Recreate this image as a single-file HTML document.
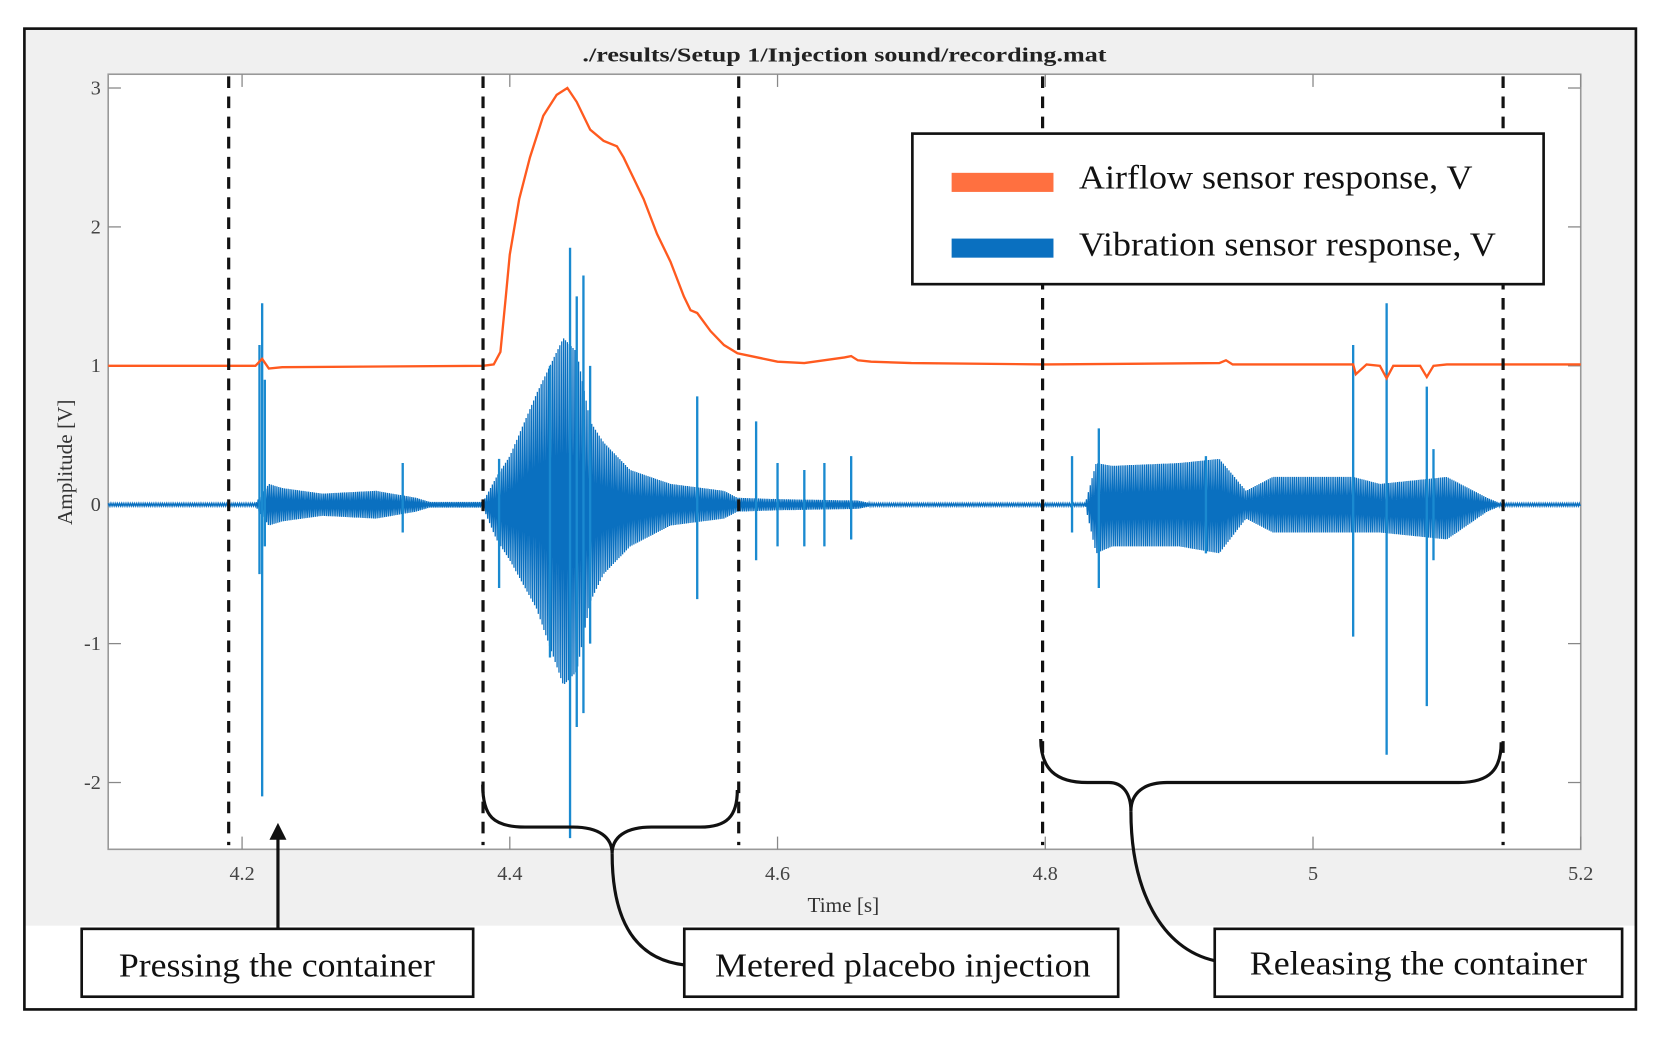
<!DOCTYPE html>
<html><head><meta charset="utf-8"><style>
html,body{margin:0;padding:0;background:#fff;}
svg{display:block;font-family:"Liberation Serif",serif;}
</style></head><body>
<svg id="chart" width="1655" height="1037" viewBox="0 0 1560 978" preserveAspectRatio="none" xmlns="http://www.w3.org/2000/svg">
<rect x="0" y="0" width="1560" height="978" fill="#fff"/>
<rect x="23" y="27" width="1519" height="846" fill="#f0f0f0"/>
<rect x="23" y="27" width="1519" height="925" fill="none" stroke="#111" stroke-width="2.5"/>
<text x="549" y="58" font-size="19" font-weight="bold" textLength="494" lengthAdjust="spacingAndGlyphs" fill="#222">./results/Setup 1/Injection sound/recording.mat</text>
<rect x="102" y="70" width="1388" height="731" fill="#fff" stroke="#999" stroke-width="1.5"/>
<g id="axes"></g>
<g id="series"></g>
<g id="annot"></g>
<text transform="translate(68,436) rotate(-90)" font-size="20" text-anchor="middle" fill="#333">Amplitude [V]</text>
<text x="795" y="860" font-size="20" text-anchor="middle" fill="#333">Time [s]</text>
<g>
<rect x="860" y="126" width="595" height="142" fill="#fff" stroke="#111" stroke-width="2.5"/>
<rect x="897" y="163" width="96" height="18" fill="#ff7040"/>
<text x="1017" y="178" font-size="32" textLength="371" lengthAdjust="spacingAndGlyphs" fill="#111">Airflow sensor response, V</text>
<rect x="897" y="225" width="96" height="18" fill="#0a70c0"/>
<text x="1017" y="241" font-size="32" textLength="393" lengthAdjust="spacingAndGlyphs" fill="#111">Vibration sensor response, V</text>
</g>
<g fill="#fff" stroke="#111" stroke-width="2.5">
<rect x="77" y="876" width="369" height="64"/>
<rect x="645" y="876" width="409" height="64"/>
<rect x="1145" y="876" width="384" height="64"/>
</g>
<g font-size="32" fill="#111">
<text x="112" y="921" textLength="298" lengthAdjust="spacingAndGlyphs">Pressing the container</text>
<text x="674" y="921" textLength="354" lengthAdjust="spacingAndGlyphs">Metered placebo injection</text>
<text x="1178" y="919" textLength="318" lengthAdjust="spacingAndGlyphs">Releasing the container</text>
</g>
<g fill="none" stroke="#111" stroke-width="3">
<path d="M455,740 C455,770 465,780 495,780 L540,780 C565,780 577,790 577,805 C577,790 589,780 614,780 L660,780 C685,780 695,770 695,745"/>
<path d="M577,805 C577,870 600,905 645,910"/>
<path d="M981,697 C981,725 995,738 1025,738 L1045,738 C1058,738 1066,748 1066,765 C1066,748 1078,738 1100,738 L1375,738 C1405,738 1415,725 1415,700"/>
<path d="M1066,765 C1066,840 1095,895 1145,906"/>
<line x1="262" y1="876" x2="262" y2="790"/>
</g>
<polygon points="262,776 254,792 270,792" fill="#111"/>
</svg>
<script>
const xTicks=[4.2,4.4,4.6,4.8,5,5.2];
const xTickLabels=["4.2","4.4","4.6","4.8","5","5.2"];
const yTicks=[3,2,1,0,-1,-2];
const yTickLabels=["3","2","1","0","-1","-2"];
const eventTimes=[4.19,4.38,4.571,4.798,5.142];
const airT=[4.1,4.21,4.215,4.22,4.23,4.38,4.388,4.393,4.397,4.40,4.407,4.415,4.425,4.435,4.443,4.45,4.46,4.47,4.48,4.485,4.49,4.50,4.51,4.52,4.53,4.535,4.54,4.55,4.56,4.57,4.58,4.60,4.62,4.65,4.655,4.66,4.67,4.70,4.80,4.93,4.935,4.94,5.03,5.032,5.04,5.05,5.055,5.06,5.08,5.085,5.09,5.10,5.2];
const airV=[1.0,1.0,1.05,0.98,0.99,1.0,1.01,1.1,1.5,1.8,2.2,2.5,2.8,2.95,3.0,2.9,2.7,2.62,2.58,2.5,2.4,2.2,1.95,1.75,1.5,1.4,1.38,1.25,1.15,1.09,1.07,1.03,1.02,1.06,1.07,1.04,1.03,1.02,1.01,1.02,1.04,1.01,1.01,0.94,1.01,1.0,0.91,1.0,1.0,0.92,1.0,1.01,1.01];
const envT=[4.1,4.21,4.22,4.23,4.26,4.30,4.33,4.34,4.38,4.39,4.40,4.42,4.44,4.45,4.46,4.47,4.49,4.52,4.56,4.57,4.60,4.66,4.67,4.83,4.838,4.85,4.90,4.93,4.95,4.97,4.99,5.02,5.03,5.05,5.10,5.13,5.14,5.2];
const envUp=[0.01,0.01,0.15,0.12,0.08,0.1,0.05,0.02,0.02,0.2,0.35,0.8,1.2,1.1,0.6,0.45,0.25,0.15,0.1,0.05,0.04,0.03,0.01,0.01,0.3,0.28,0.3,0.33,0.1,0.2,0.2,0.2,0.2,0.15,0.2,0.05,0.01,0.01];
const envLo=[-0.01,-0.01,-0.15,-0.12,-0.08,-0.1,-0.05,-0.02,-0.02,-0.25,-0.4,-0.75,-1.3,-1.2,-0.7,-0.5,-0.3,-0.15,-0.1,-0.05,-0.04,-0.03,-0.01,-0.01,-0.35,-0.3,-0.3,-0.35,-0.1,-0.2,-0.2,-0.2,-0.2,-0.2,-0.25,-0.05,-0.01,-0.01];
const spikeT=[4.213,4.215,4.217,4.32,4.392,4.43,4.445,4.45,4.455,4.46,4.54,4.584,4.60,4.62,4.635,4.655,4.82,4.84,4.92,5.03,5.055,5.085,5.09];
const spikeUp=[1.15,1.45,0.9,0.3,0.33,1.0,1.85,1.5,1.65,1.0,0.78,0.6,0.3,0.25,0.3,0.35,0.35,0.55,0.35,1.15,1.45,0.85,0.4];
const spikeLo=[-0.5,-2.1,-0.3,-0.2,-0.6,-1.1,-2.4,-1.6,-1.5,-1.0,-0.68,-0.4,-0.3,-0.3,-0.3,-0.25,-0.2,-0.6,-0.35,-0.95,-1.8,-1.45,-0.4];
const NS="http://www.w3.org/2000/svg";
const X=t=>102+(t-4.1)/1.1*1388;
const Y=v=>476-v*131;
function mk(tag,attrs,parent){const e=document.createElementNS(NS,tag);for(const k in attrs)e.setAttribute(k,attrs[k]);parent.appendChild(e);return e;}
const axes=document.getElementById('axes');
xTicks.forEach((t,i)=>{
 const l=mk('line',{x1:X(t),x2:X(t),y1:801,y2:789,stroke:'#888','stroke-width':1.2},axes);
 
 
 const l2=mk('line',{x1:X(t),x2:X(t),y1:70,y2:82,stroke:'#888','stroke-width':1.2},axes);
 
 
 const tx=mk('text',{x:X(t),y:830,'font-size':19,'text-anchor':'middle',fill:'#444'},axes);
 tx.textContent=xTickLabels[i];
 
 
});
yTicks.forEach((v,i)=>{
 const l=mk('line',{x1:102,x2:114,y1:Y(v),y2:Y(v),stroke:'#888','stroke-width':1.2},axes);
 
 
 const l2=mk('line',{x1:1478,x2:1490,y1:Y(v),y2:Y(v),stroke:'#888','stroke-width':1.2},axes);
 
 
 const tx=mk('text',{x:95,y:Y(v)+6,'font-size':19,'text-anchor':'end',fill:'#444'},axes);
 tx.textContent=yTickLabels[i];
 
 
});
const series=document.getElementById('series');
function interp(arrT,arrV,t){for(let i=1;i<arrT.length;i++){if(t<=arrT[i]){const f=(t-arrT[i-1])/(arrT[i]-arrT[i-1]);return arrV[i-1]+f*(arrV[i]-arrV[i-1]);}}return arrV[arrV.length-1];}
let d='';let s=1;
for(let t=4.1;t<=5.2;t+=0.0007){const v=s>0?interp(envT,envUp,t):interp(envT,envLo,t);d+=(d?'L':'M')+X(t).toFixed(1)+','+Y(v).toFixed(1);s=-s;}
const vib=mk('path',{d:d,fill:'none',stroke:'#0a70c0','stroke-width':1.2},series);


spikeT.forEach((t,i)=>{
 const l=mk('line',{x1:X(t),x2:X(t),y1:Y(spikeUp[i]),y2:Y(spikeLo[i]),stroke:'#1a8ad0','stroke-width':2.2},series);
 
 
});
let d2='';airT.forEach((t,i)=>{d2+=(i?'L':'M')+X(t).toFixed(1)+','+Y(airV[i]).toFixed(1);});
const air=mk('path',{d:d2,fill:'none',stroke:'#ff5a1f','stroke-width':2.2},series);


const annot=document.getElementById('annot');
eventTimes.forEach(t=>{
 const l=mk('line',{x1:X(t),x2:X(t),y1:72,y2:797,stroke:'#111','stroke-width':3,'stroke-dasharray':'11,8'},annot);
 
 
});
</script>
</body></html>
